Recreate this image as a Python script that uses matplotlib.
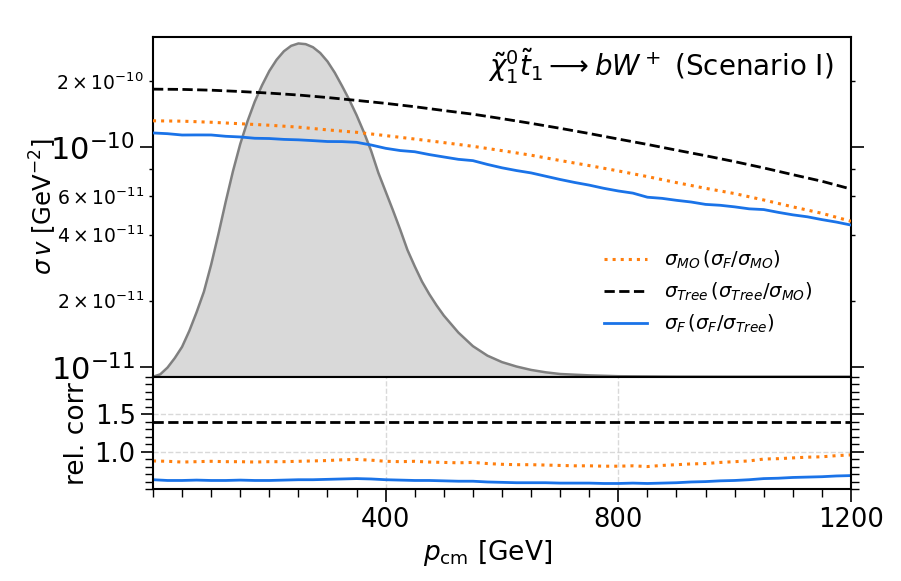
import numpy as np
import matplotlib
matplotlib.use("Agg")
import matplotlib.pyplot as plt
from matplotlib.ticker import LogLocator, FuncFormatter, MultipleLocator, FixedLocator

# ---------------- data ----------------
p_smooth = [0, 50, 100, 150, 200, 250, 300, 350, 400, 450, 500, 550, 600,
            650, 700, 750, 800, 850, 900, 950, 1000, 1050, 1100, 1150, 1200]
sigma_tree = [1.84, 1.835, 1.82, 1.795, 1.765, 1.73, 1.685, 1.635, 1.585, 1.53, 1.47,
              1.415, 1.35, 1.285, 1.22, 1.155, 1.09, 1.03, 0.97, 0.915, 0.86, 0.805,
              0.75, 0.70, 0.645]  # x 1e-10
sigma_mo = [1.32, 1.315, 1.30, 1.28, 1.26, 1.235, 1.20, 1.17, 1.13, 1.09, 1.05, 1.01,
            0.965, 0.92, 0.87, 0.825, 0.78, 0.735, 0.69, 0.65, 0.615, 0.575, 0.535,
            0.50, 0.46]  # x 1e-10

p_fine = [0, 25, 50, 75, 100, 125, 150, 175, 200, 225, 250, 275, 300, 325, 350, 375,
          400, 425, 450, 475, 500, 525, 550, 575, 600, 625, 650, 675, 700, 725, 750,
          775, 800, 825, 850, 875, 900, 925, 950, 975, 1000, 1025, 1050, 1075, 1100,
          1125, 1150, 1175, 1200]
sigma_f = [1.162, 1.153, 1.137, 1.138, 1.1375, 1.122, 1.114, 1.099, 1.096, 1.086, 1.081,
           1.072, 1.062, 1.061, 1.053, 1.024, 0.989, 0.966, 0.954, 0.926, 0.903, 0.881,
           0.869, 0.835, 0.806, 0.783, 0.764, 0.738, 0.713, 0.691, 0.672, 0.650, 0.632,
           0.618, 0.592, 0.585, 0.573, 0.563, 0.549, 0.544, 0.535, 0.524, 0.520, 0.505,
           0.492, 0.482, 0.468, 0.456, 0.442]  # x 1e-10

ratio_f_mo = [0.88, 0.875, 0.865, 0.87, 0.875, 0.87, 0.87, 0.865, 0.87, 0.87, 0.875, 0.88,
              0.885, 0.895, 0.90, 0.89, 0.875, 0.87, 0.875, 0.865, 0.86, 0.855, 0.86, 0.845,
              0.835, 0.83, 0.83, 0.825, 0.82, 0.815, 0.815, 0.81, 0.81, 0.815, 0.805, 0.82,
              0.83, 0.84, 0.845, 0.86, 0.87, 0.88, 0.905, 0.91, 0.92, 0.93, 0.935, 0.95, 0.96]
ratio_f_tree = [0.63, 0.62, 0.62, 0.625, 0.62, 0.62, 0.625, 0.62, 0.62, 0.625, 0.63, 0.63,
                0.635, 0.64, 0.645, 0.64, 0.63, 0.625, 0.62, 0.62, 0.615, 0.61, 0.61, 0.60,
                0.595, 0.59, 0.59, 0.59, 0.585, 0.585, 0.585, 0.58, 0.58, 0.585, 0.58, 0.585,
                0.59, 0.60, 0.605, 0.615, 0.62, 0.63, 0.645, 0.65, 0.66, 0.665, 0.67, 0.68, 0.685]
p_flat = [0, 600, 1200]
ratio_tree_mo = [1.40, 1.40, 1.40]

# momentum distribution (relative height in the upper panel)
p_dist = [0, 12.5, 25, 37.5, 50, 62.5, 75, 87.5, 100, 112.5, 125, 137.5, 150, 162.5, 175,
          187.5, 200, 212.5, 225, 237.5, 250, 262.5, 275, 287.5, 300, 312.5, 325, 337.5,
          350, 362.5, 375, 387.5, 400, 412.5, 425, 437.5, 450, 462.5, 475, 487.5, 500,
          525, 550, 575, 600, 625, 650, 675, 700, 750, 800, 900, 1000, 1200]
f_dist = [0, 0.007, 0.027, 0.055, 0.088, 0.135, 0.19, 0.25, 0.33, 0.42, 0.515, 0.605,
          0.685, 0.752, 0.81, 0.858, 0.90, 0.933, 0.958, 0.974, 0.981, 0.979, 0.97, 0.953,
          0.928, 0.895, 0.856, 0.815, 0.77, 0.72, 0.665, 0.60, 0.545, 0.49, 0.433, 0.373,
          0.325, 0.28, 0.243, 0.21, 0.18, 0.13, 0.09, 0.062, 0.043, 0.03, 0.02, 0.013,
          0.008, 0.004, 0.0015, 0.0003, 0.0, 0.0]

scale = 1e-10
c_orange = '#ff7f0e'
c_blue = '#1a73e8'

fig = plt.figure(figsize=(9.01, 5.81), dpi=100)
ax = fig.add_axes([0.1698, 0.3516, 0.7747, 0.5847])
axr = fig.add_axes([0.1698, 0.1575, 0.7747, 0.1941], sharex=ax)

# ---------------- upper panel ----------------
ax.fill_between(p_dist, 0, f_dist, transform=ax.get_xaxis_transform(),
                color='#d9d9d9', zorder=1, lw=0)
ax.plot(p_dist, f_dist, transform=ax.get_xaxis_transform(), color='#808080', lw=1.8, zorder=2)

ax.plot(p_smooth, np.array(sigma_mo) * scale, ls=':', color=c_orange, lw=2.2, zorder=3,
        label=r'$\sigma_{MO}\,(\sigma_F/\sigma_{MO})$')
ax.plot(p_smooth, np.array(sigma_tree) * scale, ls='--', color='black', lw=2, zorder=3,
        label=r'$\sigma_{Tree}\,(\sigma_{Tree}/\sigma_{MO})$')
ax.plot(p_fine, np.array(sigma_f) * scale, ls='-', color=c_blue, lw=2, zorder=3,
        label=r'$\sigma_F\,(\sigma_F/\sigma_{Tree})$')

ax.set_yscale('log')
ax.set_ylim(9.0e-12, 3.18e-10)
ax.set_xlim(0, 1200)

ax.yaxis.set_minor_locator(LogLocator(base=10, subs=(2.0, 4.0, 6.0, 8.0)))

def minor_fmt(v, pos):
    e = int(np.floor(np.log10(v) + 1e-9))
    c = int(round(v / 10 ** e))
    if c in (2, 4, 6):
        return r'$\mathdefault{%d\times10^{%d}}$' % (c, e)
    return ''

ax.yaxis.set_minor_formatter(FuncFormatter(minor_fmt))
ax.tick_params(axis='y', which='major', labelsize=22, length=9.5, width=1.2,
               direction='out', left=True, right=True)
ax.tick_params(axis='y', which='minor', labelsize=13.5, length=3, width=1,
               direction='out', left=True, right=True)
ax.tick_params(axis='x', which='both', bottom=False, top=False, labelbottom=False)
ax.set_ylabel(r'$\sigma\,v$ [GeV$^{-2}$]', fontsize=17.5)
ax.yaxis.set_label_coords(-0.135, 0.5)

ax.text(0.975, 0.915, r'$\tilde{\chi}_1^0\tilde{t}_1 \longrightarrow bW^+$ (Scenario I)',
        transform=ax.transAxes, ha='right', va='center', fontsize=20)

leg = ax.legend(loc='center', bbox_to_anchor=(0.795, 0.25), frameon=False, fontsize=14,
                handlelength=2.2, labelspacing=0.5, handletextpad=0.85)

# ---------------- lower panel ----------------
axr.plot(p_fine, ratio_f_mo, ls=':', color=c_orange, lw=2.2)
axr.plot(p_flat, ratio_tree_mo, ls='--', color='black', lw=2)
axr.plot(p_fine, ratio_f_tree, ls='-', color=c_blue, lw=2)

axr.set_ylim(0.5, 2.0)
axr.set_xlim(0, 1200)
axr.xaxis.set_major_locator(FixedLocator([400, 800, 1200]))
axr.xaxis.set_minor_locator(MultipleLocator(50))
axr.yaxis.set_major_locator(FixedLocator([1.0, 1.5]))
axr.yaxis.set_minor_locator(MultipleLocator(0.1))
axr.grid(True, which='major', ls='--', color='#d0d0d0', lw=1, alpha=0.8)
axr.tick_params(which='major', labelsize=18.5, length=9, width=1.2, direction='out',
                left=True, right=True, bottom=True, top=False)
axr.tick_params(which='minor', length=5.5, width=1, direction='out',
                left=True, right=True, bottom=True, top=False)
axr.set_ylabel('rel. corr', fontsize=19)
axr.yaxis.set_label_coords(-0.09, 0.5)
axr.set_xlabel(r'$p_{\mathrm{cm}}$ [GeV]', fontsize=19)
axr.xaxis.set_label_coords(0.48, -0.43)

for a in (ax, axr):
    for s in a.spines.values():
        s.set_linewidth(1.5)

fig.savefig('out.png', dpi=100)
